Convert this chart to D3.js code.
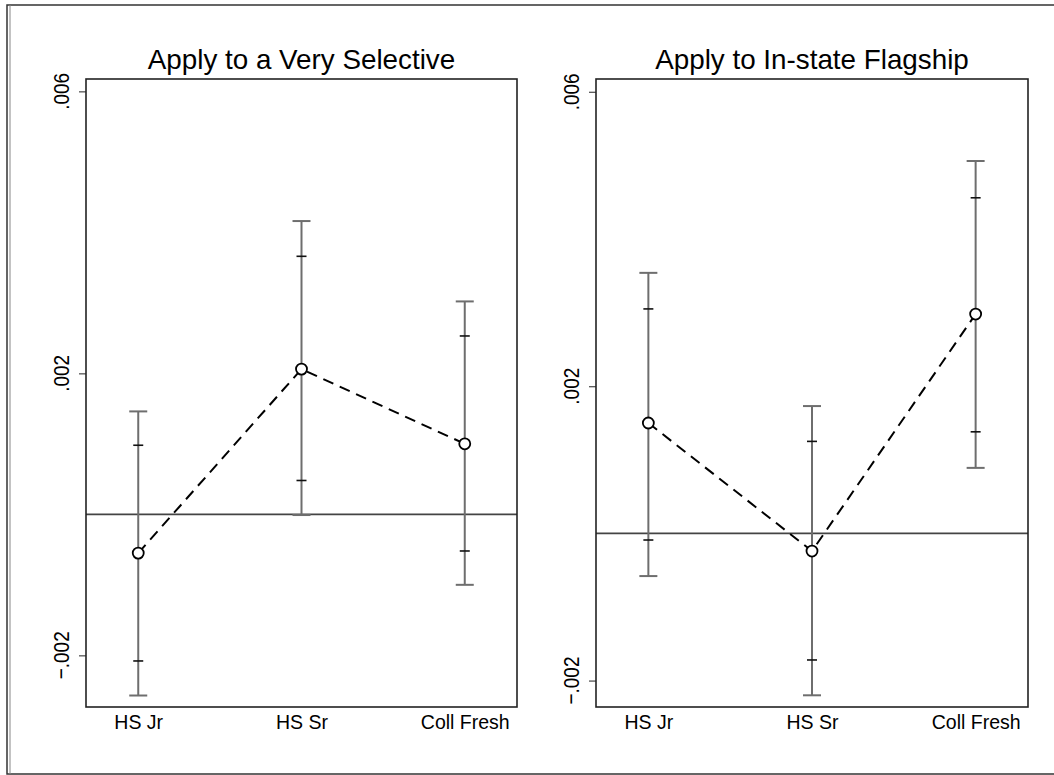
<!DOCTYPE html>
<html>
<head>
<meta charset="utf-8">
<script src="https://cdn.jsdelivr.net/npm/d3@7"></script>
<style>
  body { margin: 0; background: #fff; }
  text { font-family: "Liberation Sans", Arial, sans-serif; fill: #000; }
</style>
</head>
<body>
<div class="chart"></div>
<script>
// grades on the x axis
var categories = ['HS Jr', 'HS Sr', 'Coll Fresh'];
var yTicks = [-0.002, 0.002, 0.006];

// panel 1: Apply to a Very Selective
var selTitle = 'Apply to a Very Selective';
var selPoint = [-0.00055, 0.00206, 0.00100];
var selInnerLo = [-0.00208, 0.00048, -0.00052];
var selInnerHi = [0.00098, 0.00366, 0.00253];
var selOuterLo = [-0.00257, -0.00001, -0.00100];
var selOuterHi = [0.00146, 0.00416, 0.00302];

// panel 2: Apply to In-state Flagship
var flagTitle = 'Apply to In-state Flagship';
var flagPoint = [0.00150, -0.00024, 0.00298];
var flagInnerLo = [-0.00009, -0.00172, 0.00138];
var flagInnerHi = [0.00305, 0.00125, 0.00456];
var flagOuterLo = [-0.00058, -0.00220, 0.00089];
var flagOuterHi = [0.00354, 0.00173, 0.00506];

var width = 1054, height = 775;

var svg = d3.select(".chart")
    .append("svg")
    .attr("width", width)
    .attr("height", height);

// outer frame
svg.append("rect")
    .attr("x", 7).attr("y", 5)
    .attr("width", 1060).attr("height", 769)
    .style("fill", "none")
    .style("stroke", "#333")
    .style("stroke-width", 1.5);
svg.append("line")
    .attr("x1", 10).attr("x2", 10)
    .attr("y1", 5).attr("y2", 774)
    .style("stroke", "#888")
    .style("stroke-width", 1);

function panel(opt) {
    var rows = categories.map(function(c, i) {
        return {
            cat: c,
            pt: opt.point[i],
            ilo: opt.innerLo[i], ihi: opt.innerHi[i],
            olo: opt.outerLo[i], ohi: opt.outerHi[i]
        };
    });

    var g = svg.append("g");

    var x = d3.scalePoint()
        .domain(categories)
        .range([opt.left, opt.right])
        .padding(0.32);

    var y = d3.scaleLinear()
        .domain(opt.domain)
        .range([opt.bottom, opt.top]);

    // title
    g.append("text")
        .attr("x", (opt.left + opt.right) / 2)
        .attr("y", 69)
        .attr("text-anchor", "middle")
        .style("font-size", "27.8px")
        .text(opt.title);

    // y ticks (lines only, labels rotated below)
    var yAxis = g.append("g")
        .attr("transform", "translate(" + opt.left + ",0)")
        .call(d3.axisLeft(y).tickValues(yTicks).tickSize(7).tickFormat(""));
    yAxis.select(".domain").remove();
    yAxis.selectAll(".tick line").style("stroke", "#555").style("stroke-width", 1.3);

    g.selectAll(".ylab")
        .data(yTicks)
        .enter()
        .append("text")
        .attr("class", "ylab")
        .attr("transform", function(d) {
            return "translate(" + (opt.left - 17) + "," + y(d) + ") rotate(-90) scale(1,1.2)";
        })
        .attr("text-anchor", "middle")
        .style("font-size", "19px")
        .text(function(d) { return d3.format(".3f")(d).replace("0.", "."); });

    // x tick labels
    var xAxis = g.append("g")
        .attr("transform", "translate(0," + opt.bottom + ")")
        .call(d3.axisBottom(x).tickSize(0).tickPadding(8));
    xAxis.select(".domain").remove();
    xAxis.selectAll("text")
        .style("font-family", "'Liberation Sans', Arial, sans-serif")
        .style("font-size", "19.5px")
        .attr("dy", "0.71em");

    // zero line
    g.append("line")
        .attr("x1", opt.left).attr("x2", opt.right)
        .attr("y1", y(0)).attr("y2", y(0))
        .style("stroke", "#444")
        .style("stroke-width", 1.6);

    // outer CI bars
    g.selectAll(".ebar")
        .data(rows)
        .enter()
        .append("line")
        .attr("x1", function(d) { return x(d.cat); })
        .attr("x2", function(d) { return x(d.cat); })
        .attr("y1", function(d) { return y(d.olo); })
        .attr("y2", function(d) { return y(d.ohi); })
        .style("stroke", "#6e6e6e")
        .style("stroke-width", 2);

    // caps at outer ends
    var caps = [];
    rows.forEach(function(d) { caps.push({ cat: d.cat, v: d.olo }, { cat: d.cat, v: d.ohi }); });
    g.selectAll(".cap")
        .data(caps)
        .enter()
        .append("line")
        .attr("x1", function(d) { return x(d.cat) - 9; })
        .attr("x2", function(d) { return x(d.cat) + 9; })
        .attr("y1", function(d) { return y(d.v); })
        .attr("y2", function(d) { return y(d.v); })
        .style("stroke", "#6e6e6e")
        .style("stroke-width", 2);

    // inner CI marks
    var marks = [];
    rows.forEach(function(d) { marks.push({ cat: d.cat, v: d.ilo }, { cat: d.cat, v: d.ihi }); });
    g.selectAll(".mark")
        .data(marks)
        .enter()
        .append("line")
        .attr("x1", function(d) { return x(d.cat) - 5; })
        .attr("x2", function(d) { return x(d.cat) + 5; })
        .attr("y1", function(d) { return y(d.v); })
        .attr("y2", function(d) { return y(d.v); })
        .style("stroke", "#111")
        .style("stroke-width", 1.6);

    // dashed connecting line
    var line = d3.line()
        .x(function(d) { return x(d.cat); })
        .y(function(d) { return y(d.pt); });
    g.append("path")
        .datum(rows)
        .attr("d", line)
        .style("fill", "none")
        .style("stroke", "#000")
        .style("stroke-width", 2)
        .style("stroke-dasharray", "11,7");

    // hollow points
    g.selectAll(".pt")
        .data(rows)
        .enter()
        .append("circle")
        .attr("cx", function(d) { return x(d.cat); })
        .attr("cy", function(d) { return y(d.pt); })
        .attr("r", 5.5)
        .style("fill", "#fff")
        .style("stroke", "#000")
        .style("stroke-width", 1.8);

    // plot frame
    g.append("rect")
        .attr("x", opt.left).attr("y", opt.top)
        .attr("width", opt.right - opt.left)
        .attr("height", opt.bottom - opt.top)
        .style("fill", "none")
        .style("stroke", "#222")
        .style("stroke-width", 1.6);
}

panel({
    title: selTitle, point: selPoint,
    innerLo: selInnerLo, innerHi: selInnerHi,
    outerLo: selOuterLo, outerHi: selOuterHi,
    left: 86, right: 517, top: 79, bottom: 707,
    domain: [-0.002733, 0.006175]
});

panel({
    title: flagTitle, point: flagPoint,
    innerLo: flagInnerLo, innerHi: flagInnerHi,
    outerLo: flagOuterLo, outerHi: flagOuterHi,
    left: 596, right: 1028, top: 79, bottom: 707,
    domain: [-0.002359, 0.006174]
});
</script>
</body>
</html>
